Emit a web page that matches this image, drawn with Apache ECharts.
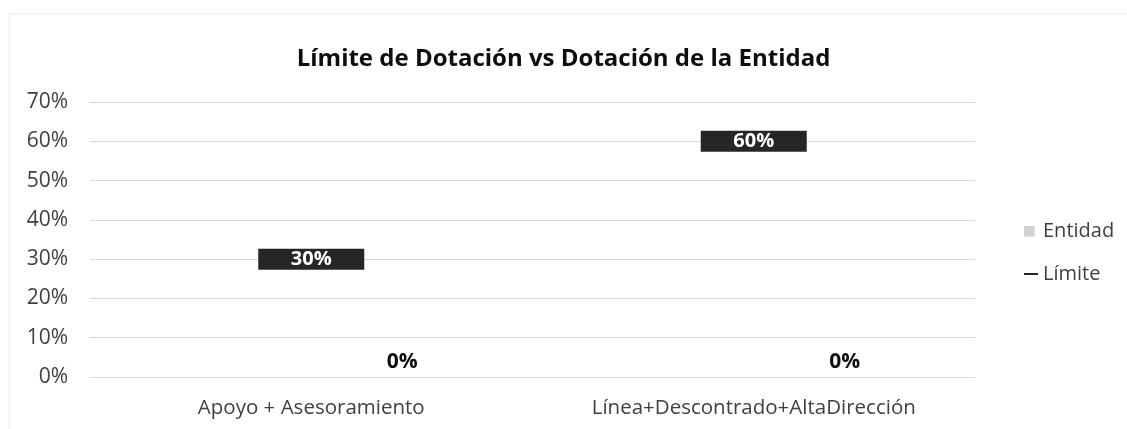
<!DOCTYPE html>
<html><head><meta charset="utf-8">
<script src="https://cdn.jsdelivr.net/npm/echarts@6/dist/echarts.min.js"></script>
<style>html,body{margin:0;padding:0;background:#fff}#c{width:1127px;height:429px}</style>
</head><body><div id="c"></div>
<script>
var categories = ['Apoyo + Asesoramiento', 'Línea+Descontrado+AltaDirección'];
var entidadValues = [0, 0];
var limiteValues = [30, 60];
var yTicks = [0, 10, 20, 30, 40, 50, 60, 70];
var titleText = 'Límite de Dotación vs Dotación de la Entidad';
var FONT = 'Open Sans';

var chart = echarts.init(document.getElementById('c'), null, {renderer: 'canvas'});
chart.setOption({
  backgroundColor: '#fff',
  animation: false,
  textStyle: {fontFamily: FONT},
  title: {
    text: titleText, left: 'center', top: 42,
    textStyle: {fontFamily: FONT, fontWeight: 'bold', fontSize: 24, color: '#0d0d0d'}
  },
  graphic: [{type: 'rect', shape: {x: 9, y: 14, width: 1120, height: 420}, style: {fill: 'none', stroke: '#ececec', lineWidth: 1}}],
  legend: {
    orient: 'vertical', left: 1019, top: 214, itemGap: 19, itemWidth: 14, itemHeight: 14,
    textStyle: {fontFamily: FONT, fontSize: 20, lineHeight: 24, color: '#404040'},
    data: [
      {name: 'Entidad', icon: 'path://M0,0L0,0M0,2L10.5,2L10.5,12.5L0,12.5ZM14,14L14,14', itemStyle: {color: '#d0d0d0'}},
      {name: 'Límite', icon: 'path://M0,0L0,0M0,6L14,6L14,8L0,8ZM14,14L14,14', itemStyle: {color: '#262626'}}
    ]
  },
  grid: {left: 90, right: 152, top: 102, bottom: 52},
  xAxis: {
    type: 'category', data: categories,
    axisLine: {lineStyle: {color: '#d9d9d9'}}, axisTick: {show: false},
    axisLabel: {fontFamily: FONT, fontSize: 20.5, color: '#404040', margin: 21}
  },
  yAxis: {
    type: 'value', min: yTicks[0], max: yTicks[yTicks.length - 1], interval: 10,
    axisLine: {show: false}, axisTick: {show: false},
    splitLine: {lineStyle: {color: '#d9d9d9'}},
    axisLabel: {fontFamily: FONT, fontSize: 21, color: '#404040', margin: 22, formatter: '{value}%'}
  },
  series: [
    {
      name: 'Entidad', type: 'bar', data: entidadValues, barWidth: 40,
      itemStyle: {color: '#d0d0d0'},
      label: {show: true, position: 'top', offset: [91, 1], formatter: '{c}%', fontFamily: FONT, fontWeight: 'bold', fontSize: 21, color: '#0d0d0d'}
    },
    {
      name: 'Límite', type: 'scatter', data: limiteValues, symbol: 'rect', symbolSize: [106, 21],
      itemStyle: {color: '#262626', opacity: 1},
      label: {show: true, position: 'inside', formatter: '{c}%', fontFamily: FONT, fontWeight: 'bold', fontSize: 20, color: '#ffffff'}
    }
  ]
});
</script></body></html>
